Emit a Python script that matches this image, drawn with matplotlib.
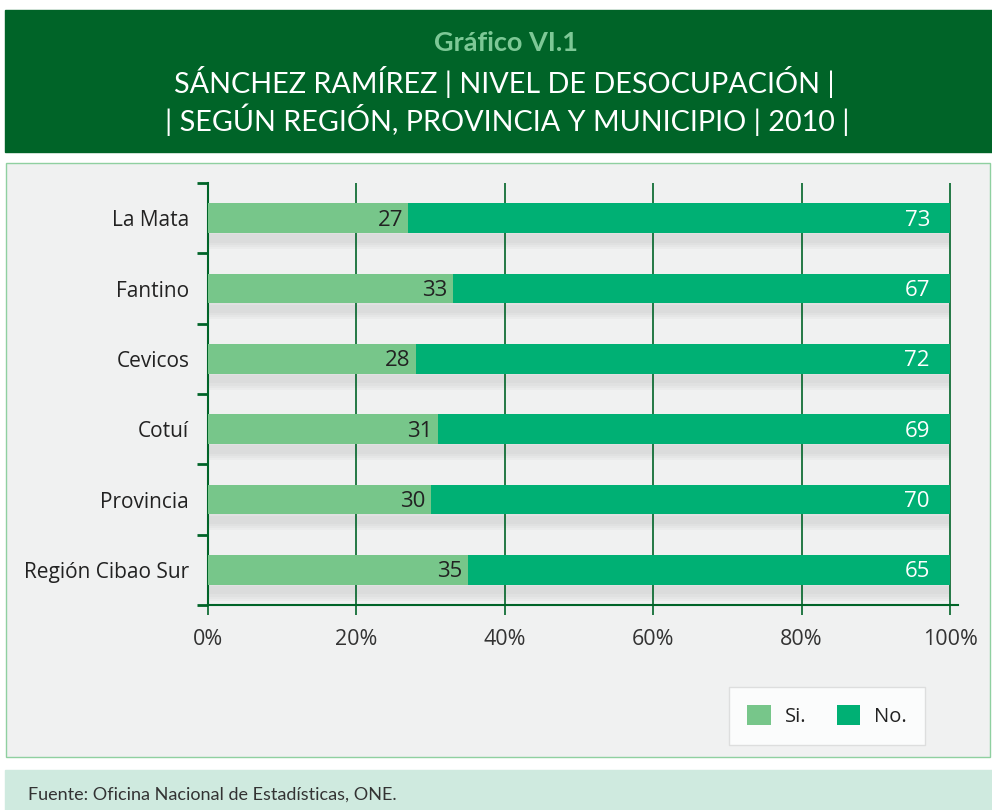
import matplotlib
matplotlib.use("Agg")
import matplotlib.pyplot as plt
from matplotlib.patches import Rectangle, Patch
import numpy as np

# data, top to bottom as drawn
regiones = ["La Mata", "Fantino", "Cevicos", "Cotuí", "Provincia", "Región Cibao Sur"]
si = [27, 33, 28, 31, 30, 35]
no = [73, 67, 72, 69, 70, 65]
xticks = [0, 20, 40, 60, 80, 100]

DARK = "#006428"
C_SI = "#77c68a"
C_NO = "#00b074"
W, H = 992, 810


def fx(px):
    return px / W


def fy(py):
    return 1 - py / H


fig = plt.figure(figsize=(W / 100, H / 100), dpi=100)
fig.patch.set_facecolor("white")

# header box
fig.patches.append(Rectangle((fx(5), fy(152)), fx(987), 142 / H,
                             transform=fig.transFigure, color=DARK, zorder=0))
fig.text(fx(506), fy(43), "Gráfico VI.1", ha="center", va="center",
         fontsize=19.5, fontweight="bold", color="#7dc896", family="Lato")
fig.text(fx(504), fy(82), "SÁNCHEZ RAMÍREZ | NIVEL DE DESOCUPACIÓN |",
         ha="center", va="center", fontsize=20.7, color="white", family="Lato")
fig.text(fx(507), fy(120), "| SEGÚN REGIÓN, PROVINCIA Y MUNICIPIO | 2010 |",
         ha="center", va="center", fontsize=20.7, color="white", family="Lato")

# chart panel
fig.patches.append(Rectangle((fx(6), fy(757)), fx(984), 594 / H,
                             transform=fig.transFigure, facecolor="#f0f1f1",
                             edgecolor="#8fd0a0", lw=1, zorder=0))
# footer
fig.patches.append(Rectangle((fx(5), 0), fx(987), 40 / H,
                             transform=fig.transFigure, color="#cfeadf", zorder=0))
fig.text(fx(28), fy(795), "Fuente: Oficina Nacional de Estadísticas, ONE.",
         ha="left", va="center", fontsize=13, color="#333333", family="Lato")

xmax = 100 * (958 - 208) / (950 - 208)
ax = fig.add_axes([fx(208), fy(605), fx(958 - 208), (605 - 183) / H])
ax.set_facecolor("none")
ax.set_zorder(3)

y = np.arange(len(regiones))
h = 0.42

# soft shadow under the bars
tot = np.array(si) + np.array(no)
for k in range(7):
    ax.barh(y + 0.2 + k * 0.03, tot, height=0.12, color="#8a8a8a",
            alpha=0.05, lw=0, zorder=1)

ax.barh(y, si, height=h, color=C_SI, lw=0, zorder=3, label="Si.")
ax.barh(y, no, left=si, height=h, color=C_NO, lw=0, zorder=3, label="No.")

for i in range(len(regiones)):
    ax.text(si[i] - 0.7, y[i] + 0.03, str(si[i]), ha="right", va="center",
            fontsize=16, color="#222222", family="Open Sans", zorder=4)
    ax.text(97.3, y[i] + 0.03, str(no[i]), ha="right", va="center",
            fontsize=16, color="white", family="Open Sans", zorder=4)

ax.set_xlim(0, xmax)
ax.set_ylim(len(regiones) - 0.5, -0.5)

for xv in xticks[1:]:
    ax.axvline(xv, color=DARK, lw=1.2, zorder=2)

for s in ["top", "right"]:
    ax.spines[s].set_visible(False)
for s in ["left", "bottom"]:
    ax.spines[s].set_color(DARK)
    ax.spines[s].set_linewidth(1.5)

ax.set_xticks(xticks)
ax.set_xticklabels([f"{v}%" for v in xticks], fontsize=15.5,
                   color="#333333", family="Open Sans")
ax.tick_params(axis="x", direction="out", length=7, width=1.2,
               color=DARK, pad=10)

ax.set_yticks(y)
ax.set_yticklabels(regiones, fontsize=15, color="#222222", family="Open Sans")
ax.set_yticks(np.arange(-0.5, len(regiones)), minor=True)
ax.tick_params(axis="y", which="major", length=0, pad=13.5)
ax.tick_params(axis="y", which="minor", direction="out", length=8,
               width=2, color=DARK)

handles = [Patch(facecolor=C_SI, label="Si."), Patch(facecolor=C_NO, label="No.")]
leg = fig.legend(handles=handles, loc="center", ncol=2,
                 bbox_to_anchor=(fx(827), fy(716)),
                 frameon=True, fancybox=False, shadow=False,
                 handlelength=1.15, handleheight=1.15, columnspacing=1.5,
                 borderpad=0.9, handletextpad=0.7,
                 prop={"family": "Open Sans", "size": 14.5})
leg.set_zorder(4)
leg.get_frame().set_facecolor("white")
leg.get_frame().set_edgecolor("#d8d8d8")
for t in leg.get_texts():
    t.set_color("#222222")

fig.savefig("out.png", dpi=100)
